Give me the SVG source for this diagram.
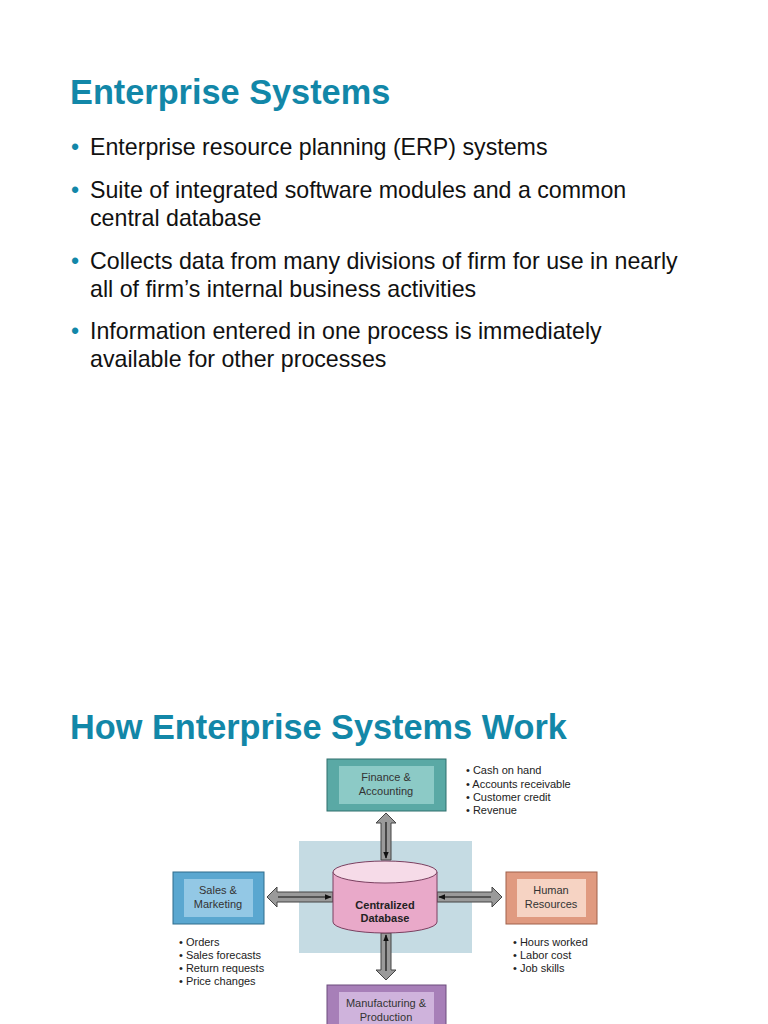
<svg xmlns="http://www.w3.org/2000/svg" width="768" height="1024" viewBox="0 0 768 1024">
<style>
.t{font-family:"Liberation Sans",Arial,sans-serif;font-weight:bold;font-size:34.3px;fill:#1287a8}
.b{font-family:"Liberation Sans",Arial,sans-serif;font-size:23.2px;fill:#111}
.d{fill:#1287a8}
.s{font-family:"Liberation Sans",Arial,sans-serif;font-size:11px;fill:#222}
.n{font-family:"Liberation Sans",Arial,sans-serif;font-size:11px;fill:#333;text-anchor:middle}
.ar{fill:#9a9a9a;stroke:#444;stroke-width:1}
</style>
<defs><marker id="m" viewBox="0 0 10 10" refX="9" refY="5" markerWidth="6" markerHeight="6" orient="auto"><path d="M0,1 L10,5 L0,9z" fill="#111"/></marker></defs>
<rect width="768" height="1024" fill="#fff"/>
<text class="t" x="70" y="104">Enterprise Systems</text>
<g class="b">
<text x="71" y="155"><tspan class="d">•</tspan><tspan x="90">Enterprise resource planning (ERP) systems</tspan></text>
<text x="71" y="198"><tspan class="d">•</tspan><tspan x="90">Suite of integrated software modules and a common</tspan></text>
<text x="90" y="226">central database</text>
<text x="71" y="269"><tspan class="d">•</tspan><tspan x="90">Collects data from many divisions of firm for use in nearly</tspan></text>
<text x="90" y="297">all of firm’s internal business activities</text>
<text x="71" y="339"><tspan class="d">•</tspan><tspan x="90">Information entered in one process is immediately</tspan></text>
<text x="90" y="367">available for other processes</text>
</g>
<text class="t" x="70" y="739">How Enterprise Systems Work</text>
<rect x="299" y="841" width="173" height="112" fill="#c5dbe3"/>
<g id="connectors">
<path class="ar" d="M381,860 V823 H376 L386,813 L396,823 H391 V860Z"/>
<line x1="386" y1="822" x2="386" y2="858" stroke="#111" stroke-width="1.2" marker-end="url(#m)"/>
<path class="ar" d="M381,933 V970 H376 L386,980 L396,970 H391 V933Z"/>
<line x1="386" y1="971" x2="386" y2="935" stroke="#111" stroke-width="1.2" marker-end="url(#m)"/>
<path class="ar" d="M333,892 H277 V887 L267,897 L277,907 V902 H333Z"/>
<line x1="278" y1="897" x2="331" y2="897" stroke="#111" stroke-width="1.2" marker-end="url(#m)"/>
<path class="ar" d="M437,892 H492 V887 L502,897 L492,907 V902 H437Z"/>
<line x1="491" y1="897" x2="439" y2="897" stroke="#111" stroke-width="1.2" marker-end="url(#m)"/>
</g>
<g id="db">
<path d="M333,872 V922 A52,11 0 0 0 437,922 V872Z" fill="#e9a9c9" stroke="#7a4060"/>
<ellipse cx="385" cy="872" rx="52" ry="11" fill="#f6dbe8" stroke="#7a4060"/>
<text class="n" x="385" y="909" style="font-weight:bold;fill:#222">Centralized</text>
<text class="n" x="385" y="922" style="font-weight:bold;fill:#222">Database</text>
</g>
<g id="finance">
<rect x="327" y="759" width="119" height="52" fill="#5aa9a5" stroke="#2f6f6c"/>
<rect x="339" y="766" width="95" height="38" fill="#8ccac6"/>
<text class="n" x="386" y="781">Finance &amp;</text>
<text class="n" x="386" y="795">Accounting</text>
</g>
<g id="sales">
<rect x="173" y="872" width="91" height="52" fill="#5aa7d0" stroke="#2f6c8c"/>
<rect x="184" y="879" width="69" height="38" fill="#93c8e5"/>
<text class="n" x="218" y="894">Sales &amp;</text>
<text class="n" x="218" y="908">Marketing</text>
</g>
<g id="hr">
<rect x="506" y="872" width="91" height="52" fill="#e09a80" stroke="#a0604a"/>
<rect x="517" y="879" width="69" height="38" fill="#f6d3c3"/>
<text class="n" x="551" y="894">Human</text>
<text class="n" x="551" y="908">Resources</text>
</g>
<g id="mfg">
<rect x="327" y="985" width="119" height="52" fill="#a77fb8" stroke="#6c4c7c"/>
<rect x="339" y="992" width="95" height="38" fill="#cfb3dc"/>
<text class="n" x="386" y="1007">Manufacturing &amp;</text>
<text class="n" x="386" y="1021">Production</text>
</g>
<g class="s">
<text x="466" y="774">• Cash on hand</text>
<text x="466" y="788">• Accounts receivable</text>
<text x="466" y="801">• Customer credit</text>
<text x="466" y="814">• Revenue</text>
<text x="179" y="946">• Orders</text>
<text x="179" y="959">• Sales forecasts</text>
<text x="179" y="972">• Return requests</text>
<text x="179" y="985">• Price changes</text>
<text x="513" y="946">• Hours worked</text>
<text x="513" y="959">• Labor cost</text>
<text x="513" y="972">• Job skills</text>
</g>
</svg>
